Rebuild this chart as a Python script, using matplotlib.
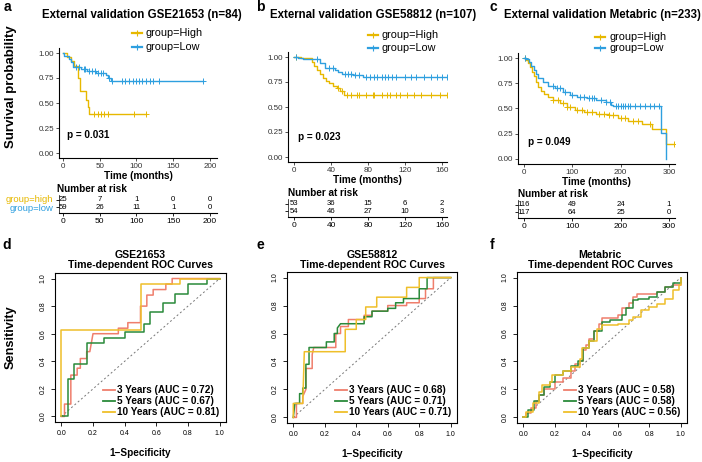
import matplotlib
matplotlib.use('Agg')
import matplotlib.pyplot as plt
import numpy as np
from matplotlib.lines import Line2D

plt.rcParams['font.family'] = ['Liberation Sans', 'DejaVu Sans']

# ---------------- data ----------------
# panel a  GSE21653
a_high_t = [0, 6, 11, 15, 21, 23, 31, 34, 36]
a_high_s = [1.0, 0.96, 0.92, 0.87, 0.75, 0.62, 0.53, 0.46, 0.395]
a_high_end = 113
a_high_cens = [42, 47, 52, 56, 61, 97, 113]
a_low_t = [0, 2, 8, 11, 14, 25, 33, 45, 58, 61, 65]
a_low_s = [1.0, 0.97, 0.94, 0.91, 0.86, 0.84, 0.82, 0.80, 0.78, 0.75, 0.725]
a_low_end = 190
a_low_cens = [18, 22, 28, 30, 36, 40, 43, 48, 52, 55, 63, 67, 80, 84, 90, 95,
              100, 104, 108, 113, 118, 122, 130, 190]
a_ticks = [0, 50, 100, 150, 200]
a_risk_high = [25, 7, 1, 0, 0]
a_risk_low = [59, 26, 11, 1, 0]

# panel b  GSE58812
b_high_t = [0, 8, 19, 22, 25, 28, 31, 35, 38, 42, 46, 50, 54]
b_high_s = [1.0, 0.99, 0.95, 0.91, 0.87, 0.83, 0.79, 0.76, 0.74, 0.71, 0.69, 0.66, 0.62]
b_high_end = 165
b_high_cens = [2, 48, 52, 57, 62, 68, 70, 78, 85, 87, 95, 100, 104, 110, 115,
               122, 130, 137, 148, 158, 165]
b_low_t = [0, 4, 10, 28, 34, 44, 48, 52, 64, 75]
b_low_s = [1.0, 0.99, 0.98, 0.94, 0.89, 0.87, 0.85, 0.83, 0.82, 0.80]
b_low_end = 165
b_low_cens = [2, 25, 38, 42, 55, 58, 62, 66, 70, 78, 82, 86, 90, 95, 98, 102,
              106, 110, 120, 126, 132, 140, 148, 155, 160, 165]
b_ticks = [0, 40, 80, 120, 160]
b_risk_high = [53, 36, 15, 6, 2]
b_risk_low = [54, 46, 27, 10, 3]

# panel c  Metabric
c_high_t = [0, 4, 8, 12, 16, 20, 25, 30, 36, 42, 50, 60, 75, 90, 105, 125, 150,
            175, 195, 215, 245, 265, 293]
c_high_s = [1.0, 0.98, 0.95, 0.91, 0.86, 0.82, 0.76, 0.71, 0.67, 0.64, 0.61, 0.58,
            0.55, 0.51, 0.49, 0.47, 0.45, 0.44, 0.41, 0.38, 0.35, 0.30, 0.15]
c_high_end = 310
c_high_cens = [3, 60, 70, 80, 90, 95, 110, 120, 130, 140, 155, 165, 175, 185,
               200, 210, 225, 235, 260, 310]
c_low_t = [0, 5, 10, 15, 20, 25, 30, 40, 50, 65, 80, 95, 110, 130, 150, 170, 180,
           185, 283, 295]
c_low_s = [1.0, 0.99, 0.96, 0.92, 0.88, 0.84, 0.80, 0.76, 0.72, 0.70, 0.66, 0.63,
           0.61, 0.60, 0.58, 0.56, 0.53, 0.52, 0.26, 0.0]
c_low_end = 295
c_low_cens = [2, 60, 68, 75, 85, 100, 115, 125, 135, 140, 145, 160, 170, 178,
              190, 195, 200, 205, 210, 215, 220, 230, 240, 250, 260, 270, 280]
c_ticks = [0, 100, 200, 300]
c_risk_high = [116, 49, 24, 1]
c_risk_low = [117, 64, 25, 0]

# ROC curves (fpr, tpr)
d_3y_x = [0, 0.02, 0.02, 0.06, 0.06, 0.10, 0.10, 0.12, 0.12, 0.16, 0.16, 0.18, 0.20, 0.36,
          0.36, 0.42, 0.42, 0.50, 0.50, 0.54, 0.54, 0.58, 0.58, 0.66, 0.66, 0.70, 0.70, 1.0]
d_3y_y = [0, 0, 0.09, 0.09, 0.30, 0.30, 0.35, 0.35, 0.42, 0.42, 0.47, 0.47, 0.60, 0.60,
          0.64, 0.64, 0.68, 0.68, 0.80, 0.80, 0.88, 0.88, 0.92, 0.92, 0.96, 0.96, 1.0, 1.0]
d_5y_x = [0, 0.04, 0.04, 0.08, 0.08, 0.16, 0.16, 0.27, 0.27, 0.40, 0.40, 0.52, 0.52, 0.56,
          0.56, 0.64, 0.64, 0.72, 0.72, 0.80, 0.80, 0.92, 0.92, 1.0]
d_5y_y = [0, 0, 0.27, 0.27, 0.38, 0.38, 0.53, 0.53, 0.57, 0.57, 0.61, 0.61, 0.67, 0.67,
          0.76, 0.76, 0.82, 0.82, 0.89, 0.89, 0.96, 0.96, 1.0, 1.0]
d_10y_x = [0, 0, 0.50, 0.50, 0.75, 0.75, 1.0]
d_10y_y = [0, 0.63, 0.63, 0.96, 0.96, 1.0, 1.0]
d_auc = [0.72, 0.67, 0.81]

e_3y_x = [0, 0.02, 0.02, 0.06, 0.06, 0.08, 0.08, 0.12, 0.12, 0.13, 0.27, 0.27, 0.30, 0.30,
          0.35, 0.35, 0.45, 0.45, 0.50, 0.50, 0.60, 0.60, 0.72, 0.72, 0.80, 0.80, 0.84, 0.84,
          0.89, 0.89, 1.0]
e_3y_y = [0, 0, 0.10, 0.10, 0.15, 0.20, 0.35, 0.35, 0.45, 0.50, 0.50, 0.60, 0.60, 0.65,
          0.65, 0.70, 0.70, 0.73, 0.73, 0.76, 0.76, 0.80, 0.80, 0.82, 0.82, 0.85, 0.85, 0.92,
          0.92, 1.0, 1.0]
e_5y_x = [0, 0.01, 0.04, 0.04, 0.06, 0.06, 0.08, 0.08, 0.10, 0.10, 0.21, 0.21, 0.26, 0.26,
          0.28, 0.28, 0.30, 0.45, 0.45, 0.50, 0.50, 0.60, 0.60, 0.65, 0.65, 0.70, 0.70, 0.80,
          0.80, 0.85, 0.85, 1.0]
e_5y_y = [0, 0.10, 0.10, 0.17, 0.17, 0.21, 0.21, 0.38, 0.38, 0.50, 0.50, 0.54, 0.54, 0.60,
          0.60, 0.64, 0.67, 0.67, 0.72, 0.72, 0.76, 0.76, 0.78, 0.78, 0.82, 0.82, 0.85, 0.85,
          0.92, 0.92, 1.0, 1.0]
e_10y_x = [0, 0, 0.06, 0.07, 0.33, 0.33, 0.40, 0.40, 0.46, 0.46, 0.53, 0.53, 0.72, 0.72,
           0.80, 0.80, 1.0]
e_10y_y = [0, 0.10, 0.10, 0.47, 0.47, 0.63, 0.63, 0.70, 0.70, 0.79, 0.79, 0.86, 0.86, 0.93,
           0.93, 1.0, 1.0]
e_auc = [0.68, 0.71, 0.71]

f_3y_x = [0, 0.02, 0.05, 0.08, 0.10, 0.13, 0.18, 0.20, 0.25, 0.30, 0.33, 0.36, 0.38, 0.40,
          0.42, 0.45, 0.48, 0.50, 0.60, 0.63, 0.67, 0.70, 0.72, 0.80, 0.85, 0.90, 0.95, 1.0]
f_3y_y = [0, 0.03, 0.07, 0.12, 0.16, 0.20, 0.20, 0.25, 0.28, 0.33, 0.38, 0.40, 0.48, 0.52,
          0.56, 0.62, 0.67, 0.71, 0.73, 0.78, 0.82, 0.86, 0.88, 0.88, 0.90, 0.93, 0.95, 1.0]
f_5y_x = [0, 0.03, 0.07, 0.10, 0.13, 0.17, 0.20, 0.25, 0.30, 0.35, 0.38, 0.42, 0.45, 0.50,
          0.55, 0.63, 0.65, 0.70, 0.73, 0.80, 0.85, 0.90, 0.95, 1.0]
f_5y_y = [0, 0.05, 0.12, 0.16, 0.22, 0.25, 0.30, 0.33, 0.37, 0.40, 0.50, 0.55, 0.62, 0.68,
          0.70, 0.73, 0.78, 0.84, 0.85, 0.86, 0.90, 0.93, 0.96, 1.0]
f_10y_x = [0, 0.02, 0.06, 0.10, 0.12, 0.17, 0.18, 0.25, 0.30, 0.36, 0.37, 0.42, 0.47, 0.50,
           0.60, 0.67, 0.70, 0.75, 0.80, 0.85, 0.90, 0.95, 0.99, 1.0]
f_10y_y = [0, 0.04, 0.10, 0.18, 0.23, 0.25, 0.30, 0.33, 0.36, 0.42, 0.50, 0.55, 0.63, 0.66,
           0.67, 0.70, 0.72, 0.77, 0.79, 0.81, 0.85, 0.91, 0.95, 1.0]
f_auc = [0.58, 0.58, 0.56]

HIGH = '#E7B800'
LOW = '#2E9FDF'
RED = '#EF7E6C'
GREEN = '#2A8A3A'
GOLD = '#EFBF2A'

W, H = 702, 462
fig = plt.figure(figsize=(W / 100, H / 100), dpi=100)


def box(l, t, r, b):
    return [l / W, 1 - b / H, (r - l) / W, (b - t) / H]


def ftext(x, y, s, **kw):
    fig.text(x / W, 1 - y / H, s, **kw)


def fline(x0, x1, y, col, marker=None, lw=1.6):
    fig.add_artist(Line2D([x0 / W, x1 / W], [1 - y / H, 1 - y / H], color=col, lw=lw,
                          transform=fig.transFigure))
    if marker:
        fig.add_artist(Line2D([(x0 + x1) / 2 / W], [1 - y / H], color=col, marker='+', ms=4,
                              mew=0.8, transform=fig.transFigure))


def km_panel(rect, xlim, xticks, groups):
    ax = fig.add_axes(box(*rect))
    for t, s, end, cens, col in groups:
        ax.step(list(t) + [end], list(s) + [s[-1]], where='post', color=col, lw=1.0)
        idx = np.searchsorted(t, cens, side='right') - 1
        ax.plot(cens, np.array(s)[idx], ls='none', marker='+', ms=4, mew=0.7, color=col)
    ax.set_xlim(xlim)
    ax.set_ylim(-0.05, 1.05)
    ax.set_xticks(xticks)
    ax.set_yticks([0, 0.25, 0.5, 0.75, 1.0])
    ax.set_yticklabels(['0.00', '0.25', '0.50', '0.75', '1.00'])
    for sp in ['top', 'right']:
        ax.spines[sp].set_visible(False)
    for sp in ['left', 'bottom']:
        ax.spines[sp].set_linewidth(0.8)
    ax.tick_params(labelsize=5.8, length=2, width=0.6, pad=1.5, colors='#333333')
    ax.set_xlabel('Time (months)', fontsize=7.2, fontweight='bold', labelpad=1)
    return ax


def risk_panel(rect, xlim, xticks, high, low):
    ax = fig.add_axes(box(*rect))
    for x, h, l in zip(xticks, high, low):
        ax.text(x, 0.75, str(h), ha='center', va='center', fontsize=5.6)
        ax.text(x, 0.31, str(l), ha='center', va='center', fontsize=5.6)
    ax.set_xlim(xlim)
    ax.set_ylim(0, 1)
    ax.set_xticks(xticks)
    ax.set_yticks([0.31, 0.75])
    ax.set_yticklabels([])
    for sp in ['top', 'right']:
        ax.spines[sp].set_visible(False)
    ax.spines['bottom'].set_linewidth(0.8)
    ax.spines['left'].set_linewidth(0.5)
    ax.tick_params(labelsize=6.0, length=2, width=0.6, pad=1.5)
    return ax


def roc_panel(rect, curves, aucs, leg_x):
    ax = fig.add_axes(box(*rect))
    ax.plot([0, 1], [0, 1], ls=(0, (2, 2.5)), color='#777777', lw=0.7)
    for x, y, col, steps in curves:
        ax.plot(x, y, color=col, lw=1.1, drawstyle='steps-post' if steps else 'default')
    ax.set_xlim(-0.04, 1.04)
    ax.set_ylim(-0.04, 1.04)
    ticks = [0, 0.2, 0.4, 0.6, 0.8, 1.0]
    ax.set_xticks(ticks)
    ax.set_yticks(ticks)
    ax.set_xticklabels(['%.1f' % v for v in ticks])
    ax.set_yticklabels(['%.1f' % v for v in ticks], rotation=90, va='center')
    ax.tick_params(labelsize=5.0, length=3, width=0.6, pad=3)
    for sp in ax.spines.values():
        sp.set_linewidth(0.8)
    ax.set_xlabel('1\u2212Specificity', fontsize=7.2, fontweight='bold', labelpad=8)
    names = ['3 Years', '5 Years', '10 Years']
    cols = [RED, GREEN, GOLD]
    for i, (n, a, c) in enumerate(zip(names, aucs, cols)):
        yy = 390 + i * 11
        fline(leg_x, leg_x + 12, yy, c, lw=1.3)
        ftext(leg_x + 14, yy, '%s (AUC = %.2f)' % (n, a), fontsize=7.2, fontweight='bold',
              va='center', ha='left')
    return ax


# ---------------- top row: KM ----------------
km_panel((59, 48, 217, 158), (-5.4, 209.5), a_ticks,
         [(a_high_t, a_high_s, a_high_end, a_high_cens, HIGH),
          (a_low_t, a_low_s, a_low_end, a_low_cens, LOW)])
km_panel((288, 52, 447, 162), (-6.5, 165.4), b_ticks,
         [(b_high_t, b_high_s, b_high_end, b_high_cens, HIGH),
          (b_low_t, b_low_s, b_low_end, b_low_cens, LOW)])
km_panel((518, 53, 675, 164), (-12.4, 312.6), c_ticks,
         [(c_high_t, c_high_s, c_high_end, c_high_cens, HIGH),
          (c_low_t, c_low_s, c_low_end, c_low_cens, LOW)])

risk_panel((59, 195, 217, 213), (-5.4, 209.5), a_ticks, a_risk_high, a_risk_low)
risk_panel((288, 199, 447, 217), (-6.5, 165.4), b_ticks, b_risk_high, b_risk_low)
risk_panel((518, 200, 675, 218), (-12.4, 312.6), c_ticks, c_risk_high, c_risk_low)

titles = ['External validation GSE21653 (n=84)', 'External validation GSE58812 (n=107)',
          'External validation Metabric (n=233)']
for cx, t in zip([142, 373, 602], titles):
    ftext(cx, 15, t, fontsize=8.3, fontweight='bold', ha='center', va='center')
for x, y, s in [(137, 33, 'High'), (137, 47, 'Low'), (373, 35, 'High'), (373, 48, 'Low'),
                (600, 37, 'High'), (600, 48, 'Low')]:
    fline(x - 5, x + 5, y, HIGH if s == 'High' else LOW, marker=True)
    ftext(x + 9, y, 'group=' + s, fontsize=7.8, va='center', ha='left')
for x, y, p in [(67, 135, '0.031'), (298, 137, '0.023'), (528, 142, '0.049')]:
    ftext(x, y, 'p = ' + p, fontsize=7.2, fontweight='bold', va='center', ha='left')
for x, y in [(57, 189), (288, 193), (518, 194)]:
    ftext(x, y, 'Number at risk', fontsize=7.2, fontweight='bold', va='center', ha='left')
ftext(53, 200, 'group=high', fontsize=6.8, color=HIGH, ha='right', va='center')
ftext(53, 208.5, 'group=low', fontsize=6.8, color=LOW, ha='right', va='center')
ftext(11, 87, 'Survival probability', fontsize=9.5, fontweight='bold', rotation=90,
      ha='center', va='center')

# ---------------- bottom row: ROC ----------------
roc_panel((55, 273, 226, 422),
          [(d_3y_x, d_3y_y, RED, False), (d_5y_x, d_5y_y, GREEN, False),
           (d_10y_x, d_10y_y, GOLD, False)], d_auc, 103)
roc_panel((287, 272, 457, 423),
          [(e_3y_x, e_3y_y, RED, False), (e_5y_x, e_5y_y, GREEN, False),
           (e_10y_x, e_10y_y, GOLD, False)], e_auc, 335)
roc_panel((517, 272, 687, 423),
          [(f_3y_x, f_3y_y, RED, True), (f_5y_x, f_5y_y, GREEN, True),
           (f_10y_x, f_10y_y, GOLD, True)], f_auc, 564)

for cx, n in zip([140, 372, 600], ['GSE21653', 'GSE58812', 'Metabric']):
    ftext(cx, 255, n, fontsize=7.6, fontweight='bold', ha='center', va='center')
    ftext(cx, 265.5, 'Time-dependent ROC Curves', fontsize=7.6, fontweight='bold',
          ha='center', va='center')
ftext(11, 337, 'Sensitivity', fontsize=9.2, fontweight='bold', rotation=90,
      ha='center', va='center')

for x, y, s in [(7, 7, 'a'), (260, 7, 'b'), (493, 7, 'c'), (7, 245, 'd'), (260, 245, 'e'),
                (492, 245, 'f')]:
    ftext(x, y, s, fontsize=10, fontweight='bold', ha='center', va='center')

fig.savefig('out.png', dpi=100)
